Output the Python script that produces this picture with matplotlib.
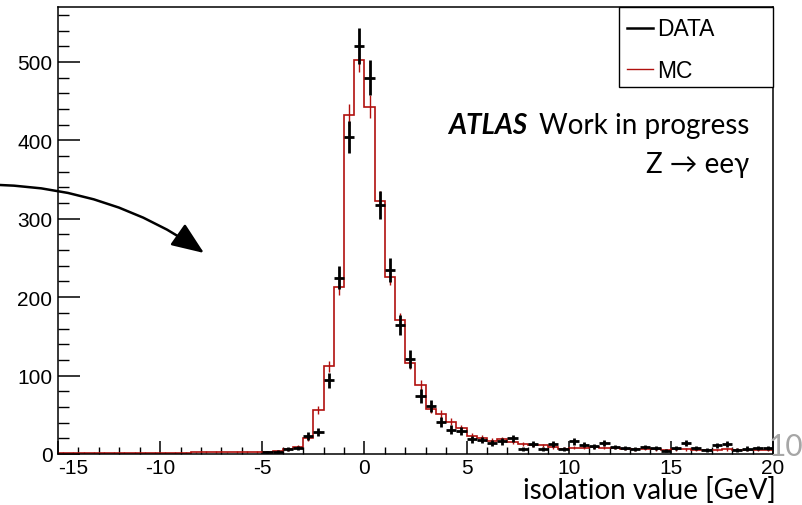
import numpy as np
import matplotlib
matplotlib.use("Agg")
import matplotlib.pyplot as plt
from matplotlib.patches import Rectangle
from matplotlib.lines import Line2D
from matplotlib.ticker import MultipleLocator

plt.rcParams["axes.unicode_minus"] = False

# --- histogram data (0.5 GeV bins from -15 to 20 GeV) ---
x_min, x_max, bin_width = -15.0, 20.0, 0.5

mc_counts = [
    1.6, 1.6, 1.7, 1.6, 1.7, 1.7, 1.6, 1.7, 1.8, 1.7, 1.8, 1.9, 1.8, 2.0, 2.4, 2.2, 2.0, 2.2,
    2.2, 2.4, 2.8, 4, 6, 9.5, 20, 56, 112, 213, 432, 503,
    443, 323, 226, 171, 116, 88, 57, 51, 41, 33, 23, 21,
    17, 19, 15, 13, 11, 11, 9, 7, 8, 8, 9, 8,
    8, 7, 6, 6.5, 6, 5, 6, 6, 5.5, 5, 5, 6, 5.5, 5, 5, 5,
]
data_counts = [0] * 20 + [
    2, 3, 6, 8, 23, 28, 94, 225, 404, 520,
    480, 317, 235, 165, 121, 74, 61, 41, 31, 29,
    19, 18, 14, 16, 20, 6, 13, 6, 13, 6,
    16, 12, 10, 14, 9, 8, 6, 9, 8, 4,
    8, 14, 8, 5, 11, 13, 5, 7, 8, 8,
]
mc_err_scale = 0.68

x_ticks = [-15, -10, -5, 0, 5, 10, 15, 20]
y_ticks = [0, 100, 200, 300, 400, 500]

MC_RED = "#b0100e"
W, H = 803, 506

edges = np.arange(x_min, x_max + bin_width / 2, bin_width)
centers = 0.5 * (edges[:-1] + edges[1:])
mc = np.array(mc_counts, dtype=float)
data = np.array(data_counts, dtype=float)
assert len(mc) == len(centers) and len(data) == len(centers)

fig = plt.figure(figsize=(W / 100, H / 100), dpi=100)
ax = fig.add_axes([58 / W, 1 - 455 / H, (773 - 58) / W, (455 - 8) / H])

# MC histogram with its stat errors
ax.stairs(mc, edges, color=MC_RED, lw=1.2, baseline=None, zorder=2)
ax.errorbar(centers, mc, yerr=mc_err_scale * np.sqrt(mc), fmt="none",
            ecolor=MC_RED, elinewidth=1.0, capsize=0, zorder=2)

# data points
sel = data > 0
ax.errorbar(centers[sel], data[sel], yerr=np.sqrt(data[sel]), xerr=bin_width / 2,
            fmt="none", ecolor="black", elinewidth=2.0, capsize=0, zorder=3)

ax.set_xlim(x_min, x_max)
ax.set_ylim(0, 570)
ax.set_xticks(x_ticks)
ax.set_yticks(y_ticks)
ax.xaxis.set_minor_locator(MultipleLocator(1))
ax.yaxis.set_minor_locator(MultipleLocator(20))
ax.tick_params(axis="y", which="major", direction="in", length=15.8, width=1.1, pad=4)
ax.tick_params(axis="y", which="minor", direction="in", length=7.9, width=1.0)
ax.tick_params(axis="x", which="major", direction="in", length=9.4, width=1.1, pad=3)
ax.tick_params(axis="x", which="minor", direction="in", length=4.7, width=1.0)
ax.tick_params(labelsize=15)
for lab in ax.get_xticklabels() + ax.get_yticklabels():
    lab.set_family("Liberation Sans")
ax.get_xticklabels()[0].set_horizontalalignment("left")
for sp in ax.spines.values():
    sp.set_linewidth(1.1)


def px(x, y):
    return x / W, 1 - y / H


# legend box drawn ROOT-style
lx0, ly0 = px(619, 88)
lx1, ly1 = px(773, 8)
fig.patches.append(Rectangle((lx0, ly0), lx1 - lx0, ly1 - ly0, transform=fig.transFigure,
                             fill=True, facecolor="white", edgecolor="black", lw=1.0, zorder=5))
for yy, col, lab, lw in [(29, "black", "DATA", 1.8), (70, MC_RED, "MC", 1.0)]:
    a, b = px(627, yy)
    c, _ = px(653, yy)
    fig.add_artist(Line2D([a, c], [b, b], color=col, lw=lw, transform=fig.transFigure, zorder=6))
    tx, ty = px(657, yy + 1)
    fig.text(tx, ty, lab, ha="left", va="center", fontsize=16.5, family="Liberation Sans", zorder=6)

# ATLAS label
fx, fy = px(527, 134)
fig.text(fx, fy, "ATLAS", ha="right", va="baseline", fontsize=20, fontweight="bold",
         fontstyle="italic", family=["Lato", "DejaVu Sans"])
fx, fy = px(749, 134)
fig.text(fx, fy, "Work in progress", ha="right", va="baseline", fontsize=20,
         family=["Lato", "DejaVu Sans"])
fx, fy = px(749, 173)
fig.text(fx, fy, "Z \u2192 ee\u03b3", ha="right", va="baseline", fontsize=20,
         family=["Lato", "DejaVu Sans"])

# axis title
fx, fy = px(776, 499)
fig.text(fx, fy, "isolation value [GeV]", ha="right", va="baseline", fontsize=20,
         family=["Lato", "DejaVu Sans"])

# slide page number
fx, fy = px(769, 456)
fig.text(fx, fy, "10", ha="left", va="baseline", fontsize=21.5, color="#a6a6a6",
         family=["Lato", "DejaVu Sans"])

# curved pointer arrow
ax.annotate("", xy=(204, H - 254), xytext=(0, H - 186), xycoords="figure pixels",
            textcoords="figure pixels", annotation_clip=False,
            arrowprops=dict(arrowstyle="-|>,head_length=1.0,head_width=0.4",
                            connectionstyle="arc3,rad=-0.15", lw=1.8, color="black",
                            mutation_scale=20, shrinkA=0, shrinkB=0))

fig.savefig("out.png", dpi=100)
